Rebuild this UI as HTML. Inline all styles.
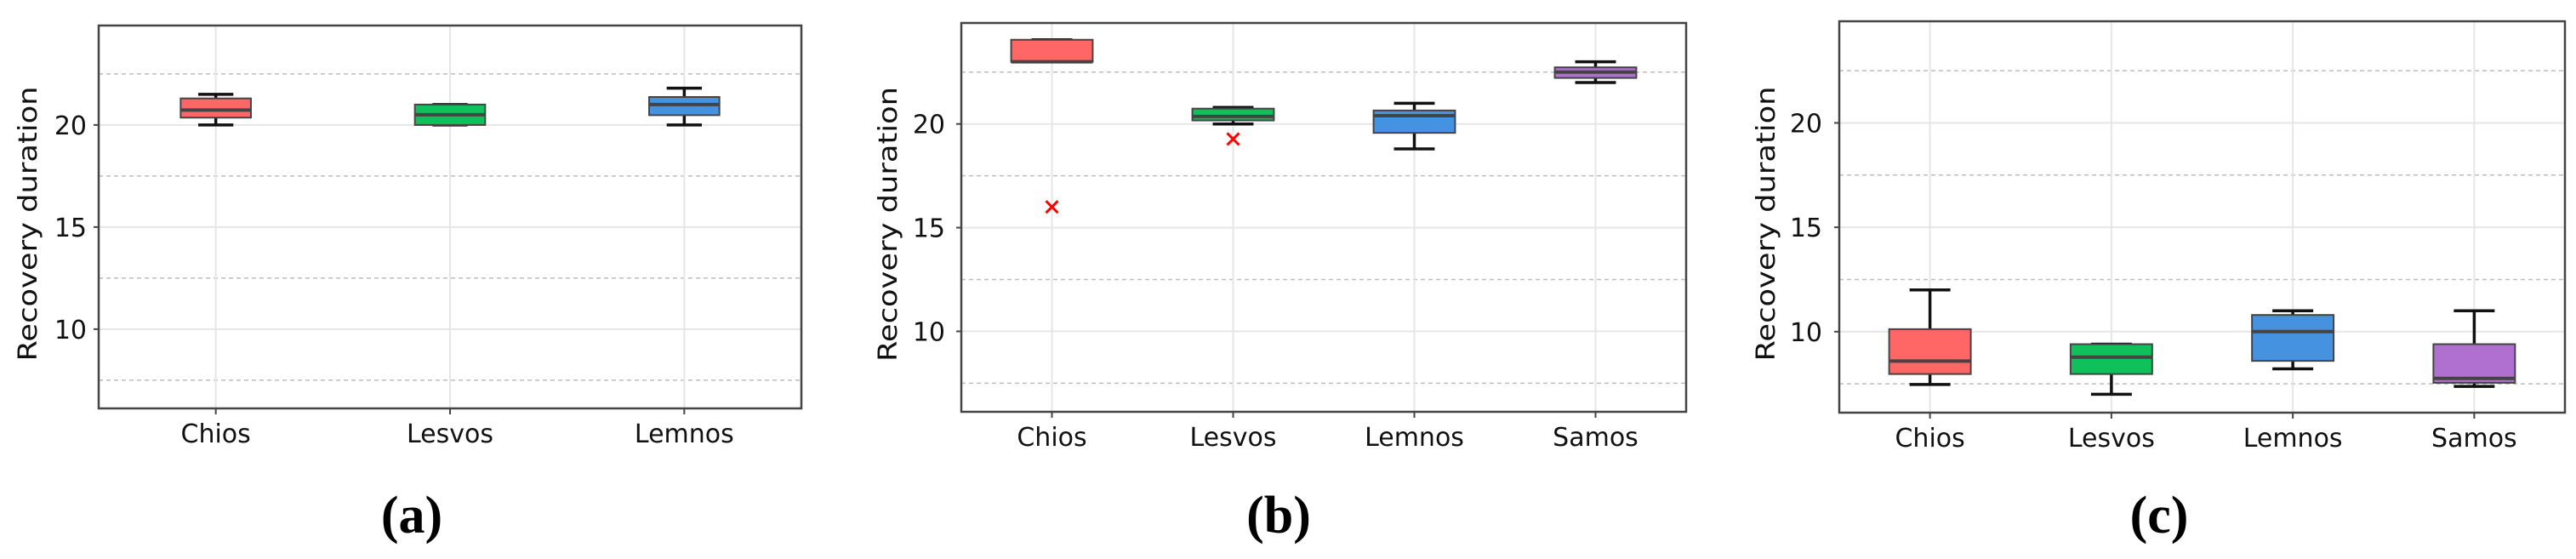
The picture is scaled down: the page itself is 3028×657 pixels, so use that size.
<!DOCTYPE html>
<html><head><meta charset="utf-8"><style>
html,body{margin:0;padding:0;background:#fff;}
svg{display:block;}
text{font-family:"DejaVu Sans","Liberation Sans",sans-serif;}
</style></head><body>
<svg id="fig" width="3028" height="657" viewBox="0 0 3028 657" xmlns="http://www.w3.org/2000/svg"></svg>
<script>
// Panel (a)
const catsA = ["Chios","Lesvos","Lemnos"];
const lowA  = [20.0, 20.0, 20.0];
const q1A   = [20.36, 20.0, 20.48];
const medA  = [20.73, 20.5, 21.0];
const q3A   = [21.3, 21.0, 21.37];
const highA = [21.5, 21.0, 21.8];
const fliersA = [[],[],[]];
// Panel (b)
const catsB = ["Chios","Lesvos","Lemnos","Samos"];
const lowB  = [23.0, 20.0, 18.8, 22.0];
const q1B   = [23.0, 20.17, 19.57, 22.22];
const medB  = [23.0, 20.36, 20.4, 22.5];
const q3B   = [24.06, 20.74, 20.65, 22.73];
const highB = [24.06, 20.8, 21.0, 23.0];
const fliersB = [[16.0],[19.27],[],[]];
// Panel (c)
const catsC = ["Chios","Lesvos","Lemnos","Samos"];
const lowC  = [7.47, 7.0, 8.22, 7.38];
const q1C   = [7.97, 7.97, 8.6, 7.55];
const medC  = [8.59, 8.78, 10.0, 7.76];
const q3C   = [10.12, 9.4, 10.8, 9.4];
const highC = [12.0, 9.4, 11.0, 11.0];
const fliersC = [[],[],[],[]];
const yTicks = [10, 15, 20];
const yMinor = [7.5, 12.5, 17.5, 22.5];
const yDomain = [6.12, 24.87];
const colors = ["#ff6666","#10c05a","#4592e0","#b070d0"];

const NS = "http://www.w3.org/2000/svg";
const svg = document.getElementById('fig');
function mk(tag, attrs, parent){
  const e = document.createElementNS(NS, tag);
  for (const k in attrs) e.setAttribute(k, attrs[k]);
  (parent||svg).appendChild(e);
  return e;
}
const panels = [
  {id:'a', cats:catsA, low:lowA, q1:q1A, med:medA, q3:q3A, high:highA, fl:fliersA, L:116, R:942, T:30, B:480, bw:0.30, tickR:104, ylx:33, lab:'(a)', labx:484},
  {id:'b', cats:catsB, low:lowB, q1:q1B, med:medB, q3:q3B, high:highB, fl:fliersB, L:1130, R:1982, T:27, B:484, bw:0.45, tickR:1113, ylx:1044, lab:'(b)', labx:1503},
  {id:'c', cats:catsC, low:lowC, q1:q1C, med:medC, q3:q3C, high:highC, fl:fliersC, L:2162, R:3015, T:25, B:485, bw:0.45, tickR:2144, ylx:2076, lab:'(c)', labx:2538}
];
panels.forEach(p=>{
  const g = mk('g', {});
  
  
  const n = p.cats.length;
  const xs = i => p.L + (i + 0.5) / n * (p.R - p.L);
  const ys = v => p.B - (v - yDomain[0]) / (yDomain[1] - yDomain[0]) * (p.B - p.T);
  const unit = (p.R - p.L) / n;
  yTicks.forEach(v=>{
    const l = mk('line', {x1:p.L, x2:p.R, y1:ys(v), y2:ys(v), stroke:'#e6e6e6', 'stroke-width':2}, g);
    
    
  });
  yMinor.forEach(v=>{
    const l = mk('line', {x1:p.L, x2:p.R, y1:ys(v), y2:ys(v), stroke:'#bdbdbd', 'stroke-width':1.5, 'stroke-dasharray':'5,4'}, g);
    
    
  });
  p.cats.forEach((c,i)=>{
    const l = mk('line', {x1:xs(i), x2:xs(i), y1:p.T, y2:p.B, stroke:'#e6e6e6', 'stroke-width':2}, g);
    
    
  });
  p.cats.forEach((c,i)=>{
    const bg = mk('g', {}, g);
    
    
    const cx = xs(i), hw = p.bw*unit/2, cw = hw*0.5;
    mk('line', {x1:cx, x2:cx, y1:ys(p.q3[i]), y2:ys(p.high[i]), stroke:'#111', 'stroke-width':3.5}, bg);
    mk('line', {x1:cx, x2:cx, y1:ys(p.q1[i]), y2:ys(p.low[i]), stroke:'#111', 'stroke-width':3.5}, bg);
    mk('line', {x1:cx-cw, x2:cx+cw, y1:ys(p.high[i]), y2:ys(p.high[i]), stroke:'#111', 'stroke-width':3.5}, bg);
    mk('line', {x1:cx-cw, x2:cx+cw, y1:ys(p.low[i]), y2:ys(p.low[i]), stroke:'#111', 'stroke-width':3.5}, bg);
    mk('rect', {x:cx-hw, y:ys(p.q3[i]), width:2*hw, height:Math.max(1, ys(p.q1[i])-ys(p.q3[i])), fill:colors[i], stroke:'#444', 'stroke-width':2}, bg);
    mk('line', {x1:cx-hw, x2:cx+hw, y1:ys(p.med[i]), y2:ys(p.med[i]), stroke:'#444', 'stroke-width':4}, bg);
    p.fl[i].forEach(v=>{
      const fy = ys(v), s = 7;
      const f = mk('path', {d:`M${cx-s},${fy-s}L${cx+s},${fy+s}M${cx-s},${fy+s}L${cx+s},${fy-s}`, stroke:'#ff0000', 'stroke-width':3, fill:'none'}, bg);
      
      
    });
  });
  const fr = mk('rect', {x:p.L, y:p.T, width:p.R-p.L, height:p.B-p.T, fill:'none', stroke:'#444', 'stroke-width':2.5}, g);
  
  
  yTicks.forEach(v=>{
    mk('line', {x1:p.L-6, x2:p.L, y1:ys(v), y2:ys(v), stroke:'#444', 'stroke-width':2}, g);
    const t = mk('text', {x:p.tickR-2, y:ys(v)+11, 'text-anchor':'end', 'font-size':30, fill:'#111'}, g);
    t.textContent = v;
    
    
  });
  p.cats.forEach((c,i)=>{
    mk('line', {x1:xs(i), x2:xs(i), y1:p.B, y2:p.B+7, stroke:'#444', 'stroke-width':2}, g);
    const t = mk('text', {x:xs(i), y:p.B+40, 'text-anchor':'middle', 'font-size':30, fill:'#111'}, g);
    t.textContent = c;
    
    
  });
  const yc = (p.T + p.B)/2 + 8;
  const yt = mk('text', {x:0, y:0, transform:`translate(${p.ylx+10},${yc}) rotate(-90)`, 'text-anchor':'middle', 'font-size':30, fill:'#111', textLength:323, lengthAdjust:'spacingAndGlyphs'}, g);
  yt.textContent = 'Recovery duration';
  
  
  const pl = mk('text', {x:p.labx, y:626, 'text-anchor':'middle', 'font-size':62, 'font-weight':'bold', fill:'#000', style:'font-family:"Liberation Serif",serif'}, g);
  pl.textContent = p.lab;
  
  
});
</script>
</body></html>
